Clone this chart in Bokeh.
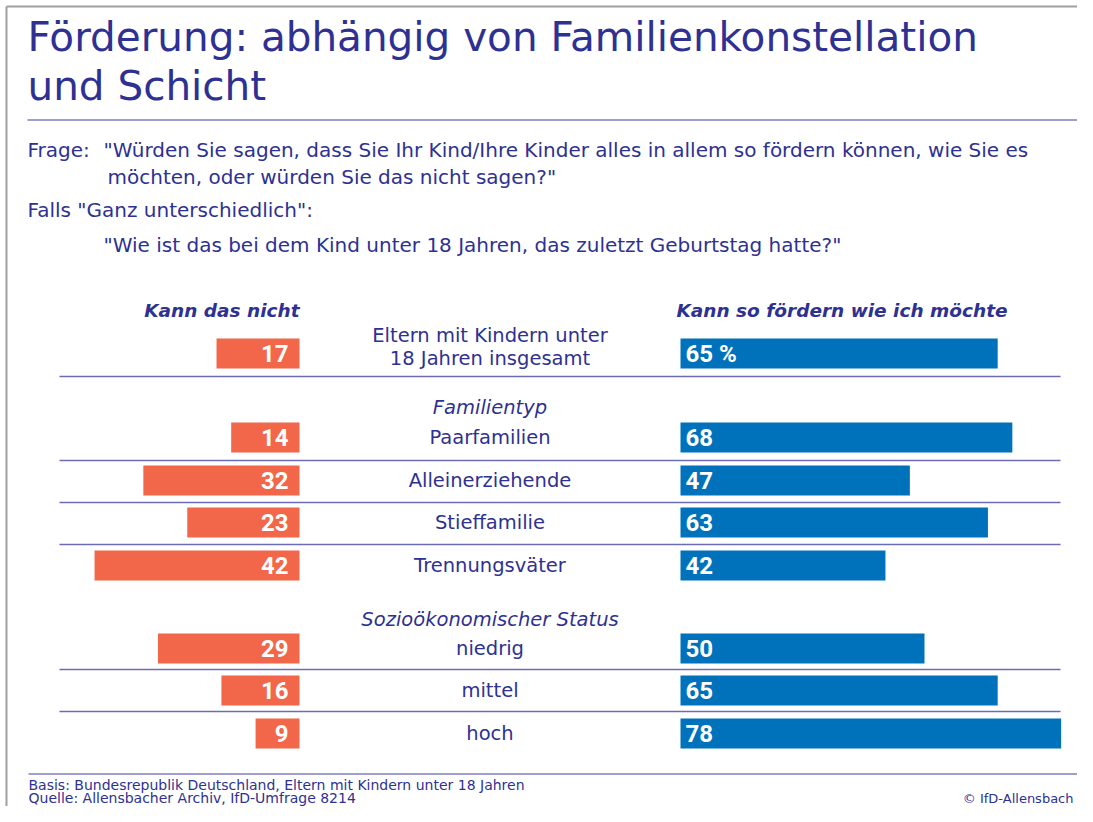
from bokeh.plotting import figure
from bokeh.models import Range1d, ColumnDataSource
from bokeh.core.properties import value
from bokeh.embed import file_html
from bokeh.resources import INLINE
import numpy as np

# ---------------- data ----------------
categories = ["Eltern mit Kindern unter\n18 Jahren insgesamt", "Paarfamilien", "Alleinerziehende",
              "Stieffamilie", "Trennungsväter", "niedrig", "mittel", "hoch"]
kann_nicht = [17, 14, 32, 23, 42, 29, 16, 9]
kann_so = [65, 68, 47, 63, 42, 50, 65, 78]
group_labels = ["Familientyp", "Sozioökonomischer Status"]

# ---------------- layout ----------------
W, H = 1077, 806
S = 4.88          # pixels per percentage point
ZERO = 680.0      # x where right bars start
GAP = (ZERO - 299.0) / S   # gap between left bar end and right bar start (in % units)

def X(pix):
    return (pix - ZERO) / S

def B(y, fs):
    # baseline compensation for the svg text renderer
    return y - 0.4 * fs

FONT = "DejaVu Sans"
NUMFONT = "Roboto"
TXT = "#2e3192"
LINE = "#7f7fbf"
ORANGE = "#f26649"
BLUE = "#0072bc"

p = figure(width=W, height=H, output_backend="svg", toolbar_location=None,
           x_range=Range1d(X(0), X(W)), y_range=Range1d(H, 0),
           min_border=0, outline_line_color=None)
p.axis.visible = False
p.grid.visible = False
p.background_fill_color = "white"

row_y = [353, 437, 480, 522, 565, 648, 690, 733]
sep_y = [376, 460, 502, 544, 669, 711]

# border (top/left)
p.segment(x0=[X(6), X(6)], y0=[6, 6], x1=[X(W), X(6)], y1=[6, H],
          line_color="#a0a0a0", line_width=2)

# title
fs = 40.5
p.text(x=[X(27), X(27)], y=[B(53, fs), B(102, fs)],
       text=["Förderung: abhängig von Familienkonstellation", "und Schicht"],
       text_font=value(FONT), text_font_size=f"{fs}px", text_color=TXT,
       text_align="left", text_baseline="alphabetic")
p.segment(x0=[X(27)], y0=[119.5], x1=[X(W)], y1=[119.5], line_color=LINE, line_width=1.5)

# question
fs = 20
p.text(x=[X(27), X(103), X(107), X(27), X(103)],
       y=[B(157, fs), B(157, fs), B(184, fs), B(217, fs), B(252, fs)],
       text=["Frage:",
             "\"Würden Sie sagen, dass Sie Ihr Kind/Ihre Kinder alles in allem so fördern können, wie Sie es",
             "möchten, oder würden Sie das nicht sagen?\"",
             "Falls \"Ganz unterschiedlich\":",
             "\"Wie ist das bei dem Kind unter 18 Jahren, das zuletzt Geburtstag hatte?\""],
       text_font=value(FONT), text_font_size=f"{fs}px", text_color=TXT,
       text_align="left", text_baseline="alphabetic")

# column headers
fs = 18.5
p.text(x=[X(299)], y=[B(317, fs)], text=["Kann das nicht"], text_font=value(FONT),
       text_font_size=f"{fs}px", text_font_style="bold italic", text_color=TXT,
       text_align="right", text_baseline="alphabetic")
p.text(x=[X(676)], y=[B(317, fs)], text=["Kann so fördern wie ich möchte"], text_font=value(FONT),
       text_font_size=f"{fs}px", text_font_style="bold italic", text_color=TXT,
       text_align="left", text_baseline="alphabetic")

# bars
fs = 24
kn = np.array(kann_nicht, dtype=float)
ks = np.array(kann_so, dtype=float)
src = ColumnDataSource(dict(
    y=row_y,
    l_left=-GAP - kn, l_right=np.full(len(kn), -GAP),
    r_left=np.zeros(len(ks)), r_right=ks,
    l_txt=[str(v) for v in kann_nicht],
    r_txt=[f"{v} %" if i == 0 else str(v) for i, v in enumerate(kann_so)],
    l_x=np.full(len(kn), -GAP - 11 / S),
    r_x=np.full(len(ks), 5 / S),
    ty=[B(y + 10, fs) for y in row_y],
))
p.hbar(y="y", left="l_left", right="l_right", height=30, source=src,
       fill_color=ORANGE, line_color=None)
p.hbar(y="y", left="r_left", right="r_right", height=30, source=src,
       fill_color=BLUE, line_color=None)
p.text(x="l_x", y="ty", text="l_txt", source=src, text_font=value(NUMFONT),
       text_font_size=f"{fs}px", text_font_style="bold", text_color="white",
       text_align="right", text_baseline="alphabetic")
p.text(x="r_x", y="ty", text="r_txt", source=src, text_font=value(NUMFONT),
       text_font_size=f"{fs}px", text_font_style="bold", text_color="white",
       text_align="left", text_baseline="alphabetic")

# category labels
fs = 19.5
cx = X(489.5)
first = categories[0].split("\n")
p.text(x=[cx, cx], y=[B(343, fs), B(366, fs)], text=first, text_font=value(FONT),
       text_font_size=f"{fs}px", text_color=TXT, text_align="center", text_baseline="alphabetic")
p.text(x=[cx] * 7, y=[B(y + 8, fs) for y in row_y[1:]], text=categories[1:], text_font=value(FONT),
       text_font_size=f"{fs}px", text_color=TXT, text_align="center", text_baseline="alphabetic")
p.text(x=[cx, cx], y=[B(415, fs), B(627, fs)], text=group_labels, text_font=value(FONT),
       text_font_size=f"{fs}px", text_font_style="italic", text_color=TXT,
       text_align="center", text_baseline="alphabetic")

# separators
p.segment(x0=[X(59)] * len(sep_y), y0=sep_y, x1=[X(1060)] * len(sep_y), y1=sep_y,
          line_color="#6c6cb4", line_width=1.5)

# footer
fs = 14
p.segment(x0=[X(28)], y0=[773.5], x1=[X(W)], y1=[773.5], line_color=LINE, line_width=1.5)
p.text(x=[X(28), X(28)], y=[B(790, fs), B(803, fs)],
       text=["Basis: Bundesrepublik Deutschland, Eltern mit Kindern unter 18 Jahren",
             "Quelle: Allensbacher Archiv, IfD-Umfrage 8214"],
       text_font=value(FONT), text_font_size=f"{fs}px", text_color=TXT,
       text_align="left", text_baseline="alphabetic")
p.text(x=[X(1073)], y=[B(803, 13)], text=["© IfD-Allensbach"], text_font=value(FONT),
       text_font_size="13px", text_color=TXT, text_align="right", text_baseline="alphabetic")

open("out.html", "w").write(file_html(p, INLINE))
